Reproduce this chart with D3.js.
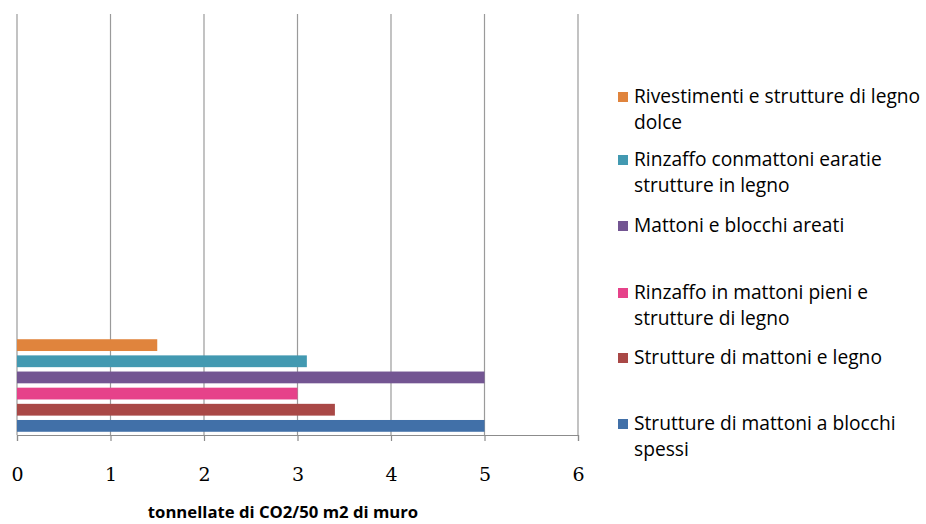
<!DOCTYPE html>
<html>
<head>
<meta charset="utf-8">
<script src="https://cdn.jsdelivr.net/npm/d3@7"></script>
<style>
  html, body { margin: 0; padding: 0; background: #fff; }
  svg { display: block; }
</style>
</head>
<body>
<svg id="chart" width="926" height="524"></svg>
<script>
// Series, listed top bar first
const series = [
  "Rivestimenti e strutture di legno dolce",
  "Rinzaffo conmattoni earatie strutture in legno",
  "Mattoni e blocchi areati",
  "Rinzaffo in mattoni pieni e strutture di legno",
  "Strutture di mattoni e legno",
  "Strutture di mattoni a blocchi spessi"
];
const values = [1.5, 3.1, 5, 3.0, 3.4, 5];
const colors = ["#E0843D", "#4299B1", "#735592", "#E6428A", "#A94846", "#4170A8"];
// Legend text, wrapped as drawn
const legendLines = [
  ["Rivestimenti e strutture di legno", "dolce"],
  ["Rinzaffo conmattoni earatie", "strutture in legno"],
  ["Mattoni e blocchi areati"],
  ["Rinzaffo in mattoni pieni e", "strutture di legno"],
  ["Strutture di mattoni e legno"],
  ["Strutture di mattoni a blocchi", "spessi"]
];
const xTicks = [0, 1, 2, 3, 4, 5, 6];
const axisTitle = "tonnellate di CO2/50 m2 di muro";

const svg = d3.select("#chart");
const plot = { left: 17, right: 578, top: 14, bottom: 435 };
const textFont = "'Open Sans', Lato, sans-serif";

const x = d3.scaleLinear().domain([0, 6]).range([plot.left, plot.right]);
const y = d3.scaleBand().domain(series).range([336, 435]).paddingInner(0.27).paddingOuter(0.2);

// Vertical gridlines
svg.append("g")
  .selectAll("line")
  .data(xTicks)
  .join("line")
  .attr("x1", d => x(d)).attr("x2", d => x(d))
  .attr("y1", plot.top).attr("y2", plot.bottom)
  .attr("stroke", "#9A9A9A").attr("stroke-width", 1.2);

// Bars
svg.append("g")
  .selectAll("rect")
  .data(series)
  .join("rect")
  .attr("x", x(0))
  .attr("y", d => y(d))
  .attr("width", (d, i) => x(values[i]) - x(0))
  .attr("height", y.bandwidth())
  .attr("fill", (d, i) => colors[i]);

// X axis
const xAxis = svg.append("g")
  .attr("transform", `translate(0,${plot.bottom})`)
  .call(d3.axisBottom(x).tickValues(xTicks).tickSize(6).tickPadding(27).tickFormat(d3.format("d")));
xAxis.select(".domain").attr("stroke", "#8C8C8C").attr("stroke-width", 1.2);
xAxis.selectAll(".tick line").attr("stroke", "#8C8C8C").attr("stroke-width", 1.2);
xAxis.selectAll(".tick text")
  .attr("font-family", "'DejaVu Serif', serif")
  .attr("font-size", 19)
  .attr("fill", "#000");

// Axis title
svg.append("text")
  .attr("x", 283).attr("y", 518)
  .attr("text-anchor", "middle")
  .attr("font-family", textFont)
  .attr("font-weight", "bold")
  .attr("font-size", 16.7)
  .attr("fill", "#000")
  .text(axisTitle);

// Legend
const legendY = [103, 166, 232, 299, 364, 430];
const legend = svg.append("g");
series.forEach((s, i) => {
  const g = legend.append("g");
  g.append("rect")
    .attr("x", 618).attr("y", legendY[i] - 11)
    .attr("width", 10).attr("height", 10)
    .attr("fill", colors[i]);
  g.append("text")
    .attr("x", 634).attr("y", legendY[i])
    .attr("font-family", textFont)
    .attr("font-size", 19.2)
    .attr("fill", "#000")
    .selectAll("tspan")
    .data(legendLines[i])
    .join("tspan")
    .attr("x", 634)
    .attr("dy", (d, j) => j === 0 ? 0 : 26)
    .text(d => d);
});
</script>
</body>
</html>
